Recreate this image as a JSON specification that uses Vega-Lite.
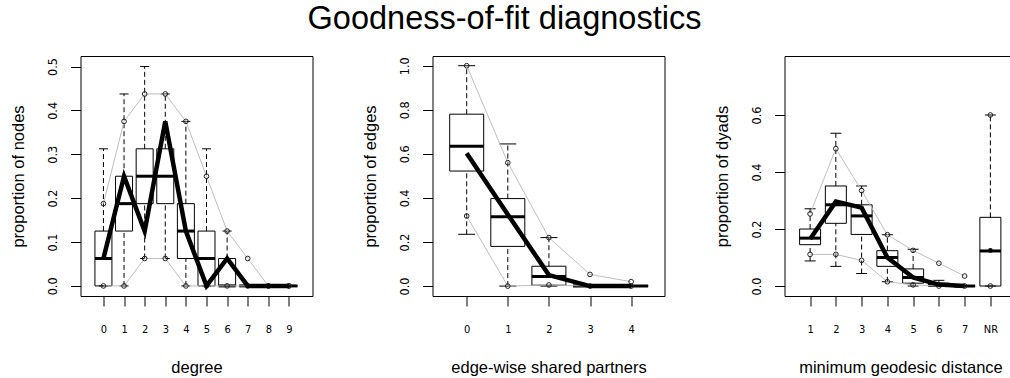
{
"$schema": "https://vega.github.io/schema/vega-lite/v6.json",
"background": "white",
"padding": {"left": 9.5, "top": 3, "right": 0, "bottom": 0},
"title": {"text": "Goodness-of-fit diagnostics", "fontSize": 32.5, "fontWeight": "normal", "font": "Liberation Sans", "color": "black", "anchor": "middle", "baseline": "alphabetic", "offset": -6, "dx": -9},
"spacing": 120,
"bounds": "flush",
"config": {
  "view": {"stroke": "black", "strokeWidth": 1},
  "tick": {"opacity": 1},
  "axis": {"domain": false, "grid": false, "tickColor": "black", "tickSize": 10, "tickWidth": 1, "labelColor": "black", "labelFont": "Liberation Sans Narrow, DejaVu Sans Condensed, Liberation Sans", "labelOverlap": false, "labelFlush": false, "titleFont": "Liberation Sans", "titleFontSize": 16.5, "titleFontWeight": "normal", "titleColor": "black"},
  "axisY": {"labelAngle": -90, "labelAlign": "center", "labelBaseline": "bottom", "labelPadding": 11, "labelFontSize": 12.5, "titleX": -62, "titleY": 120, "titleBaseline": "middle", "titleAngle": -90, "titleAlign": "center"},
  "axisX": {"labelAngle": 0, "labelPadding": 17, "labelBaseline": "top", "labelFontSize": 11, "titleY": 76, "titleBaseline": "alphabetic"}
},
"datasets": {
  "deg": [
    {"pos": 0, "min": 0, "q1": 0, "med": 0.0625, "q3": 0.125, "max": 0.3125, "lo": 0, "hi": 0.1875, "obs": 0.0625},
    {"pos": 1, "min": 0, "q1": 0.125, "med": 0.1875, "q3": 0.25, "max": 0.4375, "lo": 0, "hi": 0.375, "obs": 0.25},
    {"pos": 2, "min": 0.0625, "q1": 0.1875, "med": 0.25, "q3": 0.3125, "max": 0.5, "lo": 0.0625, "hi": 0.4375, "obs": 0.125},
    {"pos": 3, "min": 0.0625, "q1": 0.1875, "med": 0.25, "q3": 0.3125, "max": 0.4375, "lo": 0.0625, "hi": 0.4375, "obs": 0.375},
    {"pos": 4, "min": 0, "q1": 0.0625, "med": 0.125, "q3": 0.1875, "max": 0.375, "lo": 0, "hi": 0.375, "obs": 0.125},
    {"pos": 5, "min": 0, "q1": 0, "med": 0.0625, "q3": 0.125, "max": 0.3125, "lo": 0, "hi": 0.25, "obs": 0},
    {"pos": 6, "min": 0, "q1": 0, "med": 0, "q3": 0.0625, "max": 0.125, "lo": 0, "hi": 0.125, "obs": 0.0625},
    {"pos": 7, "min": 0, "q1": 0, "med": 0, "q3": 0, "max": 0, "lo": 0, "hi": 0.0625, "obs": 0},
    {"pos": 8, "min": 0, "q1": 0, "med": 0, "q3": 0, "max": 0, "lo": 0, "hi": 0, "obs": 0},
    {"pos": 9, "min": 0, "q1": 0, "med": 0, "q3": 0, "max": 0, "lo": 0, "hi": 0, "obs": 0}
  ],
  "esp": [
    {"pos": 0, "min": 0.235, "q1": 0.522, "med": 0.635, "q3": 0.78, "max": 1.0, "lo": 0.318, "hi": 1.0, "obs": 0.603},
    {"pos": 1, "min": 0, "q1": 0.18, "med": 0.315, "q3": 0.397, "max": 0.645, "lo": 0, "hi": 0.56, "obs": 0.325},
    {"pos": 2, "min": 0, "q1": 0.004, "med": 0.043, "q3": 0.09, "max": 0.22, "lo": 0.005, "hi": 0.22, "obs": 0.05},
    {"pos": 3, "min": 0, "q1": 0, "med": 0, "q3": 0.004, "max": 0.004, "lo": 0, "hi": 0.053, "obs": 0},
    {"pos": 4, "min": 0, "q1": 0, "med": 0, "q3": 0, "max": 0, "lo": 0, "hi": 0.02, "obs": 0}
  ],
  "dist": [
    {"pos": 1, "min": 0.088, "q1": 0.145, "med": 0.168, "q3": 0.2, "max": 0.271, "lo": 0.111, "hi": 0.253, "obs": 0.165},
    {"pos": 2, "min": 0.069, "q1": 0.22, "med": 0.285, "q3": 0.351, "max": 0.536, "lo": 0.111, "hi": 0.482, "obs": 0.296},
    {"pos": 3, "min": 0.044, "q1": 0.181, "med": 0.246, "q3": 0.285, "max": 0.351, "lo": 0.09, "hi": 0.335, "obs": 0.275},
    {"pos": 4, "min": 0.015, "q1": 0.069, "med": 0.1, "q3": 0.124, "max": 0.18, "lo": 0.015, "hi": 0.18, "obs": 0.1},
    {"pos": 5, "min": 0, "q1": 0.01, "med": 0.03, "q3": 0.06, "max": 0.129, "lo": 0.004, "hi": 0.125, "obs": 0.03},
    {"pos": 6, "min": 0, "q1": 0, "med": 0.003, "q3": 0.01, "max": 0.02, "lo": 0, "hi": 0.08, "obs": 0.005},
    {"pos": 7, "min": 0, "q1": 0, "med": 0, "q3": 0, "max": 0, "lo": 0, "hi": 0.035, "obs": 0},
    {"pos": 8, "min": 0, "q1": 0, "med": 0.123, "q3": 0.241, "max": 0.6, "lo": 0, "hi": 0.6, "obs": 0.125}
  ]
},
"hconcat": [
{
  "width": 232, "height": 240,
  "data": {"name": "deg"},
  "encoding": {"x": {"field": "pos", "type": "quantitative", "scale": {"domain": [-0.87, 9.9], "nice": false, "zero": false}, "axis": {"values": [0,1,2,3,4,5,6,7,8,9], "title": "degree"}}},
  "layer": [
    {"mark": {"type": "rule", "color": "black", "strokeDash": [5, 3]}, "encoding": {"y": {"field": "q3", "type": "quantitative", "scale": {"domain": [-0.023, 0.524], "nice": false, "zero": false}, "axis": {"values": [0,0.1,0.2,0.3,0.4,0.5], "format": ".1f", "title": "proportion of nodes"}}, "y2": {"field": "max"}}},
    {"mark": {"type": "rule", "color": "black", "strokeDash": [5, 3]}, "encoding": {"y": {"field": "min", "type": "quantitative", "scale": {"domain": [-0.023, 0.524], "nice": false, "zero": false}, "axis": {"values": [0,0.1,0.2,0.3,0.4,0.5], "format": ".1f", "title": "proportion of nodes"}}, "y2": {"field": "q1"}}},
    {"mark": {"type": "tick", "color": "black", "opacity": 1, "orient": "horizontal", "size": 9, "thickness": 1}, "encoding": {"y": {"field": "max", "type": "quantitative", "scale": {"domain": [-0.023, 0.524], "nice": false, "zero": false}, "axis": {"values": [0,0.1,0.2,0.3,0.4,0.5], "format": ".1f", "title": "proportion of nodes"}}}},
    {"mark": {"type": "tick", "color": "black", "opacity": 1, "orient": "horizontal", "size": 9, "thickness": 1}, "encoding": {"y": {"field": "min", "type": "quantitative", "scale": {"domain": [-0.023, 0.524], "nice": false, "zero": false}, "axis": {"values": [0,0.1,0.2,0.3,0.4,0.5], "format": ".1f", "title": "proportion of nodes"}}}},
    {"mark": {"type": "bar", "size": 17, "fill": "white", "fillOpacity": 0, "stroke": "black", "strokeWidth": 1}, "encoding": {"y": {"field": "q1", "type": "quantitative", "scale": {"domain": [-0.023, 0.524], "nice": false, "zero": false}, "axis": {"values": [0,0.1,0.2,0.3,0.4,0.5], "format": ".1f", "title": "proportion of nodes"}}, "y2": {"field": "q3"}}},
    {"mark": {"type": "tick", "color": "black", "opacity": 1, "orient": "horizontal", "size": 17, "thickness": 3}, "encoding": {"y": {"field": "med", "type": "quantitative", "scale": {"domain": [-0.023, 0.524], "nice": false, "zero": false}, "axis": {"values": [0,0.1,0.2,0.3,0.4,0.5], "format": ".1f", "title": "proportion of nodes"}}}},
    {"mark": {"type": "line", "color": "#BEBEBE", "strokeWidth": 1}, "encoding": {"y": {"field": "lo", "type": "quantitative", "scale": {"domain": [-0.023, 0.524], "nice": false, "zero": false}, "axis": {"values": [0,0.1,0.2,0.3,0.4,0.5], "format": ".1f", "title": "proportion of nodes"}}}},
    {"mark": {"type": "line", "color": "#BEBEBE", "strokeWidth": 1}, "encoding": {"y": {"field": "hi", "type": "quantitative", "scale": {"domain": [-0.023, 0.524], "nice": false, "zero": false}, "axis": {"values": [0,0.1,0.2,0.3,0.4,0.5], "format": ".1f", "title": "proportion of nodes"}}}},
    {"mark": {"type": "point", "shape": "circle", "filled": false, "stroke": "#222", "strokeWidth": 1, "size": 22, "opacity": 1}, "encoding": {"y": {"field": "lo", "type": "quantitative", "scale": {"domain": [-0.023, 0.524], "nice": false, "zero": false}, "axis": {"values": [0,0.1,0.2,0.3,0.4,0.5], "format": ".1f", "title": "proportion of nodes"}}}},
    {"mark": {"type": "point", "shape": "circle", "filled": false, "stroke": "#222", "strokeWidth": 1, "size": 22, "opacity": 1}, "encoding": {"y": {"field": "hi", "type": "quantitative", "scale": {"domain": [-0.023, 0.524], "nice": false, "zero": false}, "axis": {"values": [0,0.1,0.2,0.3,0.4,0.5], "format": ".1f", "title": "proportion of nodes"}}}},
    {"mark": {"type": "line", "color": "black", "strokeWidth": 4.5}, "encoding": {"y": {"field": "obs", "type": "quantitative", "scale": {"domain": [-0.023, 0.524], "nice": false, "zero": false}, "axis": {"values": [0,0.1,0.2,0.3,0.4,0.5], "format": ".1f", "title": "proportion of nodes"}}}}
  ]
},
{
  "width": 232, "height": 240,
  "data": {"name": "esp"},
  "encoding": {"x": {"field": "pos", "type": "quantitative", "scale": {"domain": [-0.71, 4.69], "nice": false, "zero": false}, "axis": {"values": [0,1,2,3,4], "title": "edge-wise shared partners"}}},
  "layer": [
    {"mark": {"type": "rule", "color": "black", "strokeDash": [5, 3]}, "encoding": {"y": {"field": "q3", "type": "quantitative", "scale": {"domain": [-0.045, 1.044], "nice": false, "zero": false}, "axis": {"values": [0,0.2,0.4,0.6,0.8,1.0], "format": ".1f", "title": "proportion of edges"}}, "y2": {"field": "max"}}},
    {"mark": {"type": "rule", "color": "black", "strokeDash": [5, 3]}, "encoding": {"y": {"field": "min", "type": "quantitative", "scale": {"domain": [-0.045, 1.044], "nice": false, "zero": false}, "axis": {"values": [0,0.2,0.4,0.6,0.8,1.0], "format": ".1f", "title": "proportion of edges"}}, "y2": {"field": "q1"}}},
    {"mark": {"type": "tick", "color": "black", "opacity": 1, "orient": "horizontal", "size": 17, "thickness": 1}, "encoding": {"y": {"field": "max", "type": "quantitative", "scale": {"domain": [-0.045, 1.044], "nice": false, "zero": false}, "axis": {"values": [0,0.2,0.4,0.6,0.8,1.0], "format": ".1f", "title": "proportion of edges"}}}},
    {"mark": {"type": "tick", "color": "black", "opacity": 1, "orient": "horizontal", "size": 17, "thickness": 1}, "encoding": {"y": {"field": "min", "type": "quantitative", "scale": {"domain": [-0.045, 1.044], "nice": false, "zero": false}, "axis": {"values": [0,0.2,0.4,0.6,0.8,1.0], "format": ".1f", "title": "proportion of edges"}}}},
    {"mark": {"type": "bar", "size": 34, "fill": "white", "fillOpacity": 0, "stroke": "black", "strokeWidth": 1}, "encoding": {"y": {"field": "q1", "type": "quantitative", "scale": {"domain": [-0.045, 1.044], "nice": false, "zero": false}, "axis": {"values": [0,0.2,0.4,0.6,0.8,1.0], "format": ".1f", "title": "proportion of edges"}}, "y2": {"field": "q3"}}},
    {"mark": {"type": "tick", "color": "black", "opacity": 1, "orient": "horizontal", "size": 34, "thickness": 3}, "encoding": {"y": {"field": "med", "type": "quantitative", "scale": {"domain": [-0.045, 1.044], "nice": false, "zero": false}, "axis": {"values": [0,0.2,0.4,0.6,0.8,1.0], "format": ".1f", "title": "proportion of edges"}}}},
    {"mark": {"type": "line", "color": "#BEBEBE", "strokeWidth": 1}, "encoding": {"y": {"field": "lo", "type": "quantitative", "scale": {"domain": [-0.045, 1.044], "nice": false, "zero": false}, "axis": {"values": [0,0.2,0.4,0.6,0.8,1.0], "format": ".1f", "title": "proportion of edges"}}}},
    {"mark": {"type": "line", "color": "#BEBEBE", "strokeWidth": 1}, "encoding": {"y": {"field": "hi", "type": "quantitative", "scale": {"domain": [-0.045, 1.044], "nice": false, "zero": false}, "axis": {"values": [0,0.2,0.4,0.6,0.8,1.0], "format": ".1f", "title": "proportion of edges"}}}},
    {"mark": {"type": "point", "shape": "circle", "filled": false, "stroke": "#222", "strokeWidth": 1, "size": 22, "opacity": 1}, "encoding": {"y": {"field": "lo", "type": "quantitative", "scale": {"domain": [-0.045, 1.044], "nice": false, "zero": false}, "axis": {"values": [0,0.2,0.4,0.6,0.8,1.0], "format": ".1f", "title": "proportion of edges"}}}},
    {"mark": {"type": "point", "shape": "circle", "filled": false, "stroke": "#222", "strokeWidth": 1, "size": 22, "opacity": 1}, "encoding": {"y": {"field": "hi", "type": "quantitative", "scale": {"domain": [-0.045, 1.044], "nice": false, "zero": false}, "axis": {"values": [0,0.2,0.4,0.6,0.8,1.0], "format": ".1f", "title": "proportion of edges"}}}},
    {"mark": {"type": "line", "color": "black", "strokeWidth": 4.5}, "encoding": {"y": {"field": "obs", "type": "quantitative", "scale": {"domain": [-0.045, 1.044], "nice": false, "zero": false}, "axis": {"values": [0,0.2,0.4,0.6,0.8,1.0], "format": ".1f", "title": "proportion of edges"}}}}
  ]
},
{
  "width": 232, "height": 240,
  "data": {"name": "dist"},
  "encoding": {"x": {"field": "pos", "type": "quantitative", "scale": {"domain": [0.2, 8.82], "nice": false, "zero": false}, "axis": {"values": [1,2,3,4,5,6,7,8], "labelExpr": "datum.value == 8 ? 'NR' : datum.label", "title": "minimum geodesic distance"}}},
  "layer": [
    {"mark": {"type": "rule", "color": "black", "strokeDash": [5, 3]}, "encoding": {"y": {"field": "q3", "type": "quantitative", "scale": {"domain": [-0.035, 0.807], "nice": false, "zero": false}, "axis": {"values": [0,0.2,0.4,0.6], "format": ".1f", "title": "proportion of dyads"}}, "y2": {"field": "max"}}},
    {"mark": {"type": "rule", "color": "black", "strokeDash": [5, 3]}, "encoding": {"y": {"field": "min", "type": "quantitative", "scale": {"domain": [-0.035, 0.807], "nice": false, "zero": false}, "axis": {"values": [0,0.2,0.4,0.6], "format": ".1f", "title": "proportion of dyads"}}, "y2": {"field": "q1"}}},
    {"mark": {"type": "tick", "color": "black", "opacity": 1, "orient": "horizontal", "size": 11, "thickness": 1}, "encoding": {"y": {"field": "max", "type": "quantitative", "scale": {"domain": [-0.035, 0.807], "nice": false, "zero": false}, "axis": {"values": [0,0.2,0.4,0.6], "format": ".1f", "title": "proportion of dyads"}}}},
    {"mark": {"type": "tick", "color": "black", "opacity": 1, "orient": "horizontal", "size": 11, "thickness": 1}, "encoding": {"y": {"field": "min", "type": "quantitative", "scale": {"domain": [-0.035, 0.807], "nice": false, "zero": false}, "axis": {"values": [0,0.2,0.4,0.6], "format": ".1f", "title": "proportion of dyads"}}}},
    {"mark": {"type": "bar", "size": 21, "fill": "white", "fillOpacity": 0, "stroke": "black", "strokeWidth": 1}, "encoding": {"y": {"field": "q1", "type": "quantitative", "scale": {"domain": [-0.035, 0.807], "nice": false, "zero": false}, "axis": {"values": [0,0.2,0.4,0.6], "format": ".1f", "title": "proportion of dyads"}}, "y2": {"field": "q3"}}},
    {"mark": {"type": "tick", "color": "black", "opacity": 1, "orient": "horizontal", "size": 21, "thickness": 3}, "encoding": {"y": {"field": "med", "type": "quantitative", "scale": {"domain": [-0.035, 0.807], "nice": false, "zero": false}, "axis": {"values": [0,0.2,0.4,0.6], "format": ".1f", "title": "proportion of dyads"}}}},
    {"transform": [{"filter": "datum.pos <= 7"}], "mark": {"type": "line", "color": "#BEBEBE", "strokeWidth": 1}, "encoding": {"y": {"field": "lo", "type": "quantitative", "scale": {"domain": [-0.035, 0.807], "nice": false, "zero": false}, "axis": {"values": [0,0.2,0.4,0.6], "format": ".1f", "title": "proportion of dyads"}}}},
    {"transform": [{"filter": "datum.pos <= 7"}], "mark": {"type": "line", "color": "#BEBEBE", "strokeWidth": 1}, "encoding": {"y": {"field": "hi", "type": "quantitative", "scale": {"domain": [-0.035, 0.807], "nice": false, "zero": false}, "axis": {"values": [0,0.2,0.4,0.6], "format": ".1f", "title": "proportion of dyads"}}}},
    {"mark": {"type": "point", "shape": "circle", "filled": false, "stroke": "#222", "strokeWidth": 1, "size": 22, "opacity": 1}, "encoding": {"y": {"field": "lo", "type": "quantitative", "scale": {"domain": [-0.035, 0.807], "nice": false, "zero": false}, "axis": {"values": [0,0.2,0.4,0.6], "format": ".1f", "title": "proportion of dyads"}}}},
    {"mark": {"type": "point", "shape": "circle", "filled": false, "stroke": "#222", "strokeWidth": 1, "size": 22, "opacity": 1}, "encoding": {"y": {"field": "hi", "type": "quantitative", "scale": {"domain": [-0.035, 0.807], "nice": false, "zero": false}, "axis": {"values": [0,0.2,0.4,0.6], "format": ".1f", "title": "proportion of dyads"}}}},
    {"transform": [{"filter": "datum.pos <= 7"}], "mark": {"type": "line", "color": "black", "strokeWidth": 4.5}, "encoding": {"y": {"field": "obs", "type": "quantitative", "scale": {"domain": [-0.035, 0.807], "nice": false, "zero": false}, "axis": {"values": [0,0.2,0.4,0.6], "format": ".1f", "title": "proportion of dyads"}}}},
    {"transform": [{"filter": "datum.pos == 8"}], "mark": {"type": "point", "shape": "circle", "filled": true, "color": "black", "size": 22, "opacity": 1}, "encoding": {"y": {"field": "obs", "type": "quantitative", "scale": {"domain": [-0.035, 0.807], "nice": false, "zero": false}, "axis": {"values": [0,0.2,0.4,0.6], "format": ".1f", "title": "proportion of dyads"}}}}
  ]
}
]
}
